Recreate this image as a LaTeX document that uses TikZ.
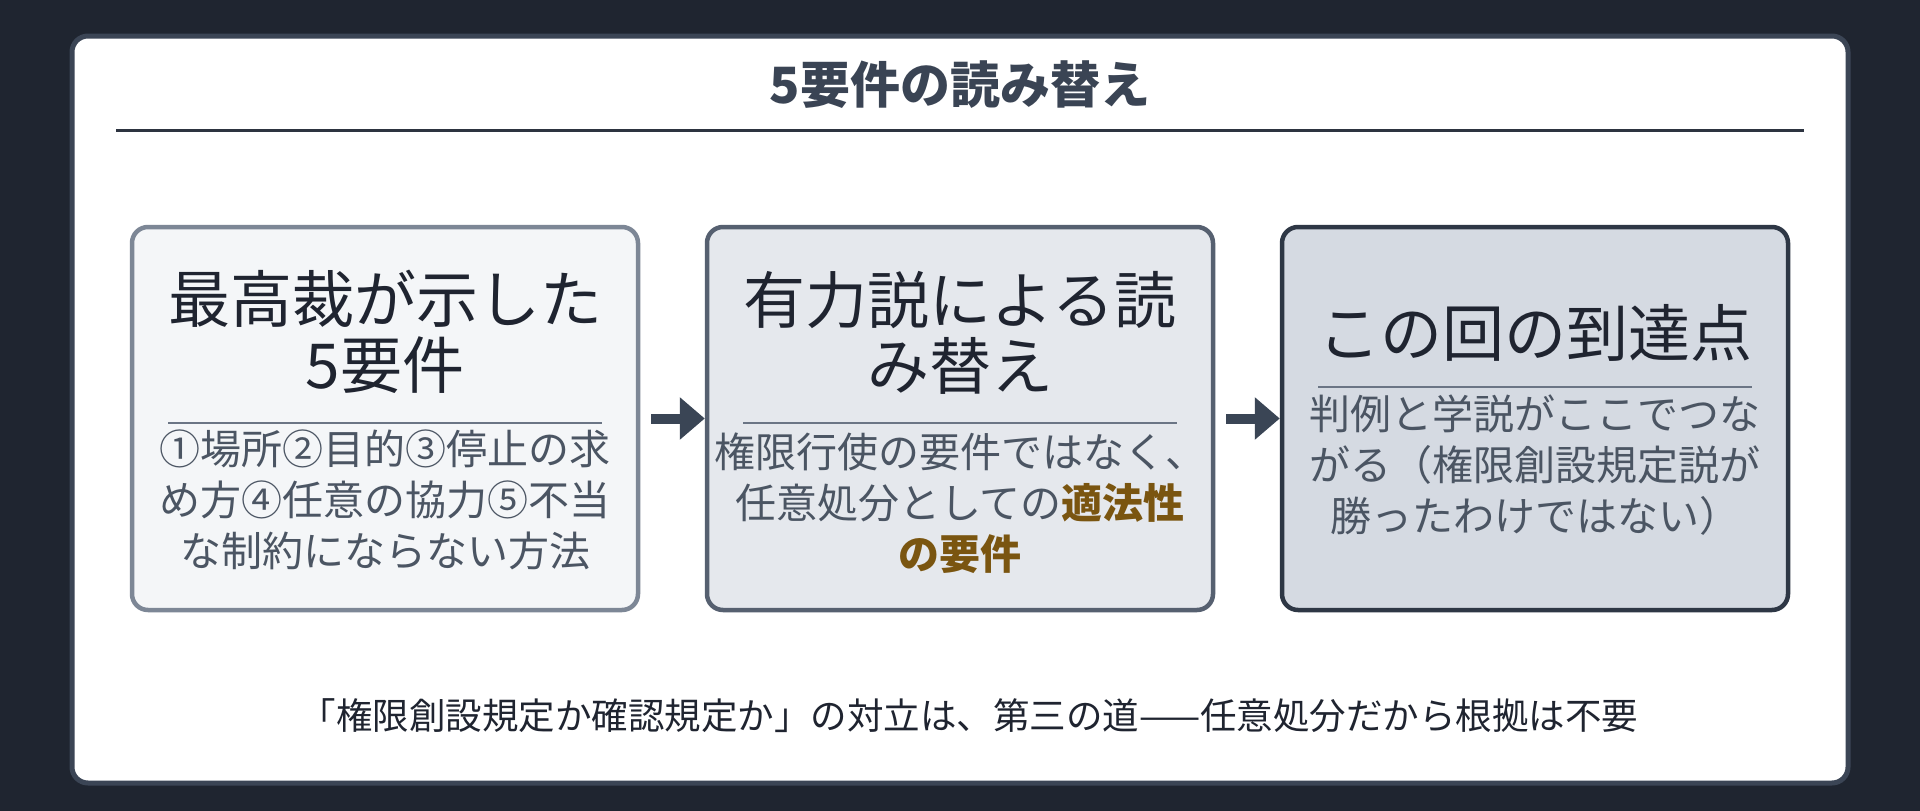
\documentclass[tikz,border=0pt]{standalone}
\usepackage{fontspec}
\setmainfont{Noto Sans CJK JP}
\usetikzlibrary{arrows.meta}
\definecolor{pagebg}{HTML}{1F2530}
\definecolor{framec}{HTML}{3B4555}
\definecolor{heading}{HTML}{3A4454}
\definecolor{rulec}{HTML}{2D3440}
\definecolor{inkdark}{HTML}{1F2430}
\definecolor{inksub}{HTML}{4B5563}
\definecolor{divc}{HTML}{6B7585}
\definecolor{mark}{HTML}{7A5510}
\definecolor{arrowc}{HTML}{3A4555}
\definecolor{fillA}{HTML}{F4F6F8}
\definecolor{lineA}{HTML}{7D8796}
\definecolor{fillB}{HTML}{E5E8ED}
\definecolor{lineB}{HTML}{566070}
\definecolor{fillC}{HTML}{D5DAE2}
\definecolor{lineC}{HTML}{2E3745}
\begin{document}
\begin{tikzpicture}[x=1pt,y=-1pt,
	stage/.style={draw, rounded corners=16pt, line width=4.5pt, minimum width=506pt, minimum height=383pt, inner sep=0pt},
	stagehead/.style={text=inkdark, font=\fontsize{62}{66}\selectfont, align=center},
	stagenote/.style={text=inksub, font=\fontsize{41}{51}\selectfont, align=center},
	divider/.style={divc, line width=2.5pt},
	flow/.style={draw=arrowc, line width=10pt, -{Triangle[length=25pt,width=41pt]}}]
	\useasboundingbox (0,0) rectangle (1920,811);
	\fill[pagebg] (0,0) rectangle (1920,811);
	\draw[framec, fill=white, line width=5pt, rounded corners=16pt] (72,36) rectangle (1848,783);

	\node[text=heading, font=\fontsize{50}{56}\selectfont\bfseries] (title) at (960,85) {5要件の読み替え};
	\draw[rulec, line width=3pt] (116,130) -- (1804,130);

	\node[stage, draw=lineA, fill=fillA] (court) at (385,418.5) {};
	\node[stage, draw=lineB, fill=fillB] (theory) at (960,418.5) {};
	\node[stage, draw=lineC, fill=fillC] (goal) at (1535,418.5) {};

	\node[stagehead] (courthead) at (385,332) {最高裁が示した\\5要件};
	\draw[divider] (168,423) -- (602,423);
	\node[stagenote] (courtnote) at (385,500) {①場所②目的③停止の求\\め方④任意の協力⑤不当\\な制約にならない方法};

	\node[stagehead] (theoryhead) at (960,333) {有力説による読\\み替え};
	\draw[divider] (743,423) -- (1177,423);
	\node[stagenote] (theorynote) at (960,503) {権限行使の要件ではなく、\\任意処分としての{\color{mark}\bfseries 適法性}\\{\color{mark}\bfseries の要件}};

	\node[stagehead] (goalhead) at (1535,333) {この回の到達点};
	\draw[divider] (1318,387) -- (1752,387);
	\node[stagenote] (goalnote) at (1535,465) {判例と学説がここでつな\\がる（権限創設規定説が\\勝ったわけではない）};

	\draw[flow] ([xshift=11pt]court.east) -- (theory.west);
	\draw[flow] ([xshift=11pt]theory.east) -- (goal.west);

	\node[text=inkdark, font=\fontsize{36.5}{40}\selectfont] (moral) at (969,716) {「権限創設規定か確認規定か」の対立は、第三の道——任意処分だから根拠は不要};
\end{tikzpicture}
\end{document}
